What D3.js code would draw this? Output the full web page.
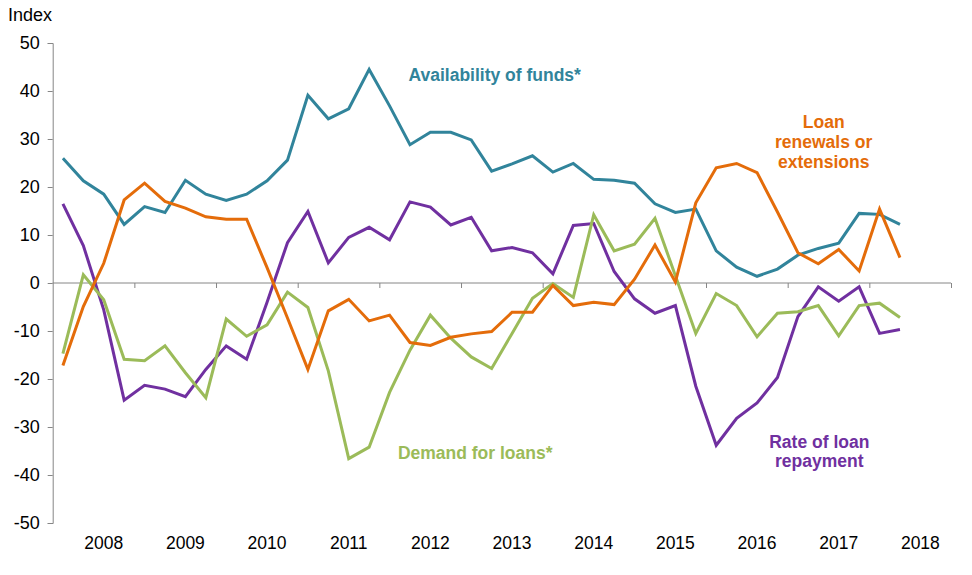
<!DOCTYPE html>
<html>
<head>
<meta charset="utf-8">
<script src="https://cdn.jsdelivr.net/npm/d3@7"></script>
<style>
  html, body { margin: 0; padding: 0; background: #fff; }
  svg { display: block; font-family: "Liberation Sans", Arial, sans-serif; }
</style>
</head>
<body>
<svg id="chart" width="972" height="575"></svg>
<script>
// ---- data (quarterly, 2008 Q1 – 2018 Q2) ----
const years = ["2008","2009","2010","2011","2012","2013","2014","2015","2016","2017","2018"];
const quarters = [
  "2008Q1","2008Q2","2008Q3","2008Q4","2009Q1","2009Q2","2009Q3","2009Q4",
  "2010Q1","2010Q2","2010Q3","2010Q4","2011Q1","2011Q2","2011Q3","2011Q4",
  "2012Q1","2012Q2","2012Q3","2012Q4","2013Q1","2013Q2","2013Q3","2013Q4",
  "2014Q1","2014Q2","2014Q3","2014Q4","2015Q1","2015Q2","2015Q3","2015Q4",
  "2016Q1","2016Q2","2016Q3","2016Q4","2017Q1","2017Q2","2017Q3","2017Q4",
  "2018Q1","2018Q2"
];
const availability = [26.0,21.3,18.5,12.2,15.9,14.7,21.4,18.5,17.2,18.5,21.3,25.6,
  39.1,34.2,36.3,44.5,36.9,28.8,31.4,31.4,29.8,23.3,24.8,26.5,23.1,24.9,21.6,21.4,
  20.8,16.5,14.7,15.4,6.7,3.3,1.4,2.9,5.8,7.2,8.3,14.5,14.3,12.2];
const renewals = [-17.2,-4.9,4.1,17.3,20.8,17.0,15.6,13.8,13.3,13.3,3.2,-7.3,
  -18.0,-5.8,-3.4,-7.9,-6.7,-12.4,-13.0,-11.3,-10.6,-10.1,-6.1,-6.1,-0.5,-4.7,-4.0,-4.5,
  0.8,7.9,0.2,16.7,24.0,24.9,23.0,14.8,6.3,4.0,7.0,2.5,15.4,5.3];
const repayment = [16.5,7.8,-5.6,-24.4,-21.3,-22.1,-23.7,-18.0,-13.1,-15.9,-4.0,8.4,
  14.9,4.2,9.5,11.6,9.0,16.9,15.8,12.1,13.7,6.7,7.4,6.3,1.9,12.0,12.4,2.4,
  -3.3,-6.3,-4.7,-21.5,-33.8,-28.2,-25.0,-19.7,-7.0,-0.8,-3.8,-0.8,-10.5,-9.7];
const demand = [-14.7,1.7,-3.5,-15.9,-16.2,-13.1,-18.7,-23.9,-7.5,-11.1,-8.7,-1.9,
  -5.1,-18.3,-36.6,-34.2,-22.8,-14.0,-6.7,-11.5,-15.4,-17.8,-10.5,-3.2,-0.1,-3.0,14.2,6.7,
  8.1,13.5,1.5,-10.5,-2.2,-4.7,-11.2,-6.3,-6.0,-4.7,-11.0,-4.7,-4.2,-7.2];
const yTicks = [50,40,30,20,10,0,-10,-20,-30,-40,-50];

const series = [
  {name: "availability", values: availability, color: "#31849B"},
  {name: "repayment",    values: repayment,    color: "#7030A0"},
  {name: "demand",       values: demand,       color: "#9BBB59"},
  {name: "renewals",     values: renewals,     color: "#E46C0A"}
];

// ---- layout ----
const svg = d3.select("#chart");
const mLeft = 52.7, mRight = 951, mTop = 43, mBottom = 523;
const nSlots = years.length * 4;

const x = d3.scaleLinear().domain([0, nSlots]).range([mLeft, mRight]);
const y = d3.scaleLinear().domain([-50, 50]).range([mBottom, mTop]);
const axisColor = "#868686";

// y axis
const yAxis = d3.axisLeft(y).tickValues(yTicks).tickSize(5).tickPadding(8).tickFormat(d => String(d));
const gy = svg.append("g").attr("transform", `translate(${mLeft},0)`).call(yAxis);
gy.select(".domain").attr("stroke", axisColor).attr("stroke-width", 1);
gy.selectAll(".tick line").attr("stroke", axisColor);
gy.selectAll(".tick text").attr("fill", "#000").style("font-size", "18px")
  .style("font-family", "'Liberation Sans', Arial, sans-serif");

// zero line with year-boundary ticks
const boundaries = d3.range(0, years.length + 1).map(k => k * 4);
const xAxis = d3.axisBottom(x).tickValues(boundaries.slice(1)).tickSize(5).tickFormat("");
const gx = svg.append("g").attr("transform", `translate(0,${y(0)})`).call(xAxis);
gx.select(".domain").attr("stroke", axisColor).attr("stroke-width", 1)
  .attr("d", `M${mLeft},0H${mRight}`);
gx.selectAll(".tick line").attr("stroke", axisColor);

// year labels
svg.append("g").selectAll("text").data(years).join("text")
  .attr("x", (d, i) => x(i * 4 + 2.5))
  .attr("y", 549)
  .attr("text-anchor", "middle")
  .style("font-size", "17.5px")
  .attr("fill", "#000")
  .text(d => d);

// Index label
svg.append("text").attr("x", 8).attr("y", 21).style("font-size", "18px").attr("fill", "#000").text("Index");

// lines
const line = d3.line().x((d, i) => x(i + 0.5)).y(d => y(d));
svg.append("g").selectAll("path").data(series).join("path")
  .attr("d", d => line(d.values))
  .attr("fill", "none")
  .attr("stroke", d => d.color)
  .attr("stroke-width", 3)
  .attr("stroke-linejoin", "miter");

// series labels
function label(lines, cx, baseline, color, lh) {
  const t = svg.append("text").attr("text-anchor", "middle")
    .style("font-size", "17.5px").style("font-weight", "bold").attr("fill", color);
  lines.forEach((s, i) => t.append("tspan").attr("x", cx).attr("y", baseline + i * lh).text(s));
}
label(["Availability of funds*"], 494.7, 81, "#31849B", 20);
label(["Loan", "renewals or", "extensions"], 823.7, 128.3, "#E46C0A", 19.7);
label(["Demand for loans*"], 475.2, 459, "#9BBB59", 20);
label(["Rate of loan", "repayment"], 819.3, 448.3, "#7030A0", 19);
</script>
</body>
</html>
